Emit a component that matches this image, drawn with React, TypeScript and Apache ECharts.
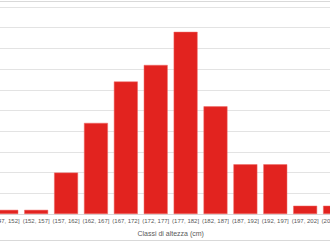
import React, { useEffect, useRef } from "react";
import * as echarts from "echarts";

const categories = [
  "[147, 152]",
  "(152, 157]",
  "(157, 162]",
  "(162, 167]",
  "(167, 172]",
  "(172, 177]",
  "(177, 182]",
  "(182, 187]",
  "(187, 192]",
  "(192, 197]",
  "(197, 202]",
  "(202, 207]",
];
const counts = [1, 1, 10, 22, 32, 36, 44, 26, 12, 12, 2, 2];
const axisTitle = "Classi di altezza (cm)";
const yMin = 0;
const yMax = 50;
const yInterval = 5;

export default function App() {
  const ref = useRef<HTMLDivElement>(null);
  useEffect(() => {
    if (!ref.current) return;
    const chart = echarts.init(ref.current, undefined, { renderer: "svg" });
    chart.setOption({
      animation: false,
      backgroundColor: "transparent",
      grid: { left: 0, width: 360, top: 7, height: 209, containLabel: false },
      xAxis: {
        type: "category",
        data: categories,
        name: axisTitle,
        nameLocation: "middle",
        nameGap: 16,
        nameTextStyle: { fontFamily: "Liberation Sans", fontSize: 7, color: "#595959" },
        axisLine: { show: true, lineStyle: { color: "#d9d9d9", width: 1 } },
        axisTick: { show: false },
        axisLabel: {
          interval: 0,
          margin: 4,
          fontFamily: "Liberation Sans",
          fontSize: 6,
          color: "#595959",
        },
      },
      yAxis: {
        type: "value",
        min: yMin,
        max: yMax,
        interval: yInterval,
        axisLabel: { show: false },
        axisLine: { show: false },
        axisTick: { show: false },
        splitLine: { lineStyle: { color: "#e3e3e3", width: 1 } },
      },
      graphic: [
        { type: "line", shape: { x1: 0, y1: 1.5, x2: 370, y2: 1.5 }, style: { stroke: "#d9d9d9", lineWidth: 1 } },
        { type: "line", shape: { x1: 0, y1: 240.5, x2: 370, y2: 240.5 }, style: { stroke: "#d9d9d9", lineWidth: 1 } },
      ],
      series: [
        {
          type: "bar",
          data: counts,
          barCategoryGap: "20%",
          itemStyle: { color: "#E2231F", borderColor: "#ee6a66", borderWidth: 0.5 },
        },
      ],
    });
    return () => chart.dispose();
  }, []);
  return (
    <div style={{ position: "fixed", left: 0, top: 0, width: 330, height: 242, overflow: "hidden", background: "#fff" }}>
      <div ref={ref} style={{ position: "absolute", left: -10, top: 0, width: 370, height: 242 }} />
    </div>
  );
}
